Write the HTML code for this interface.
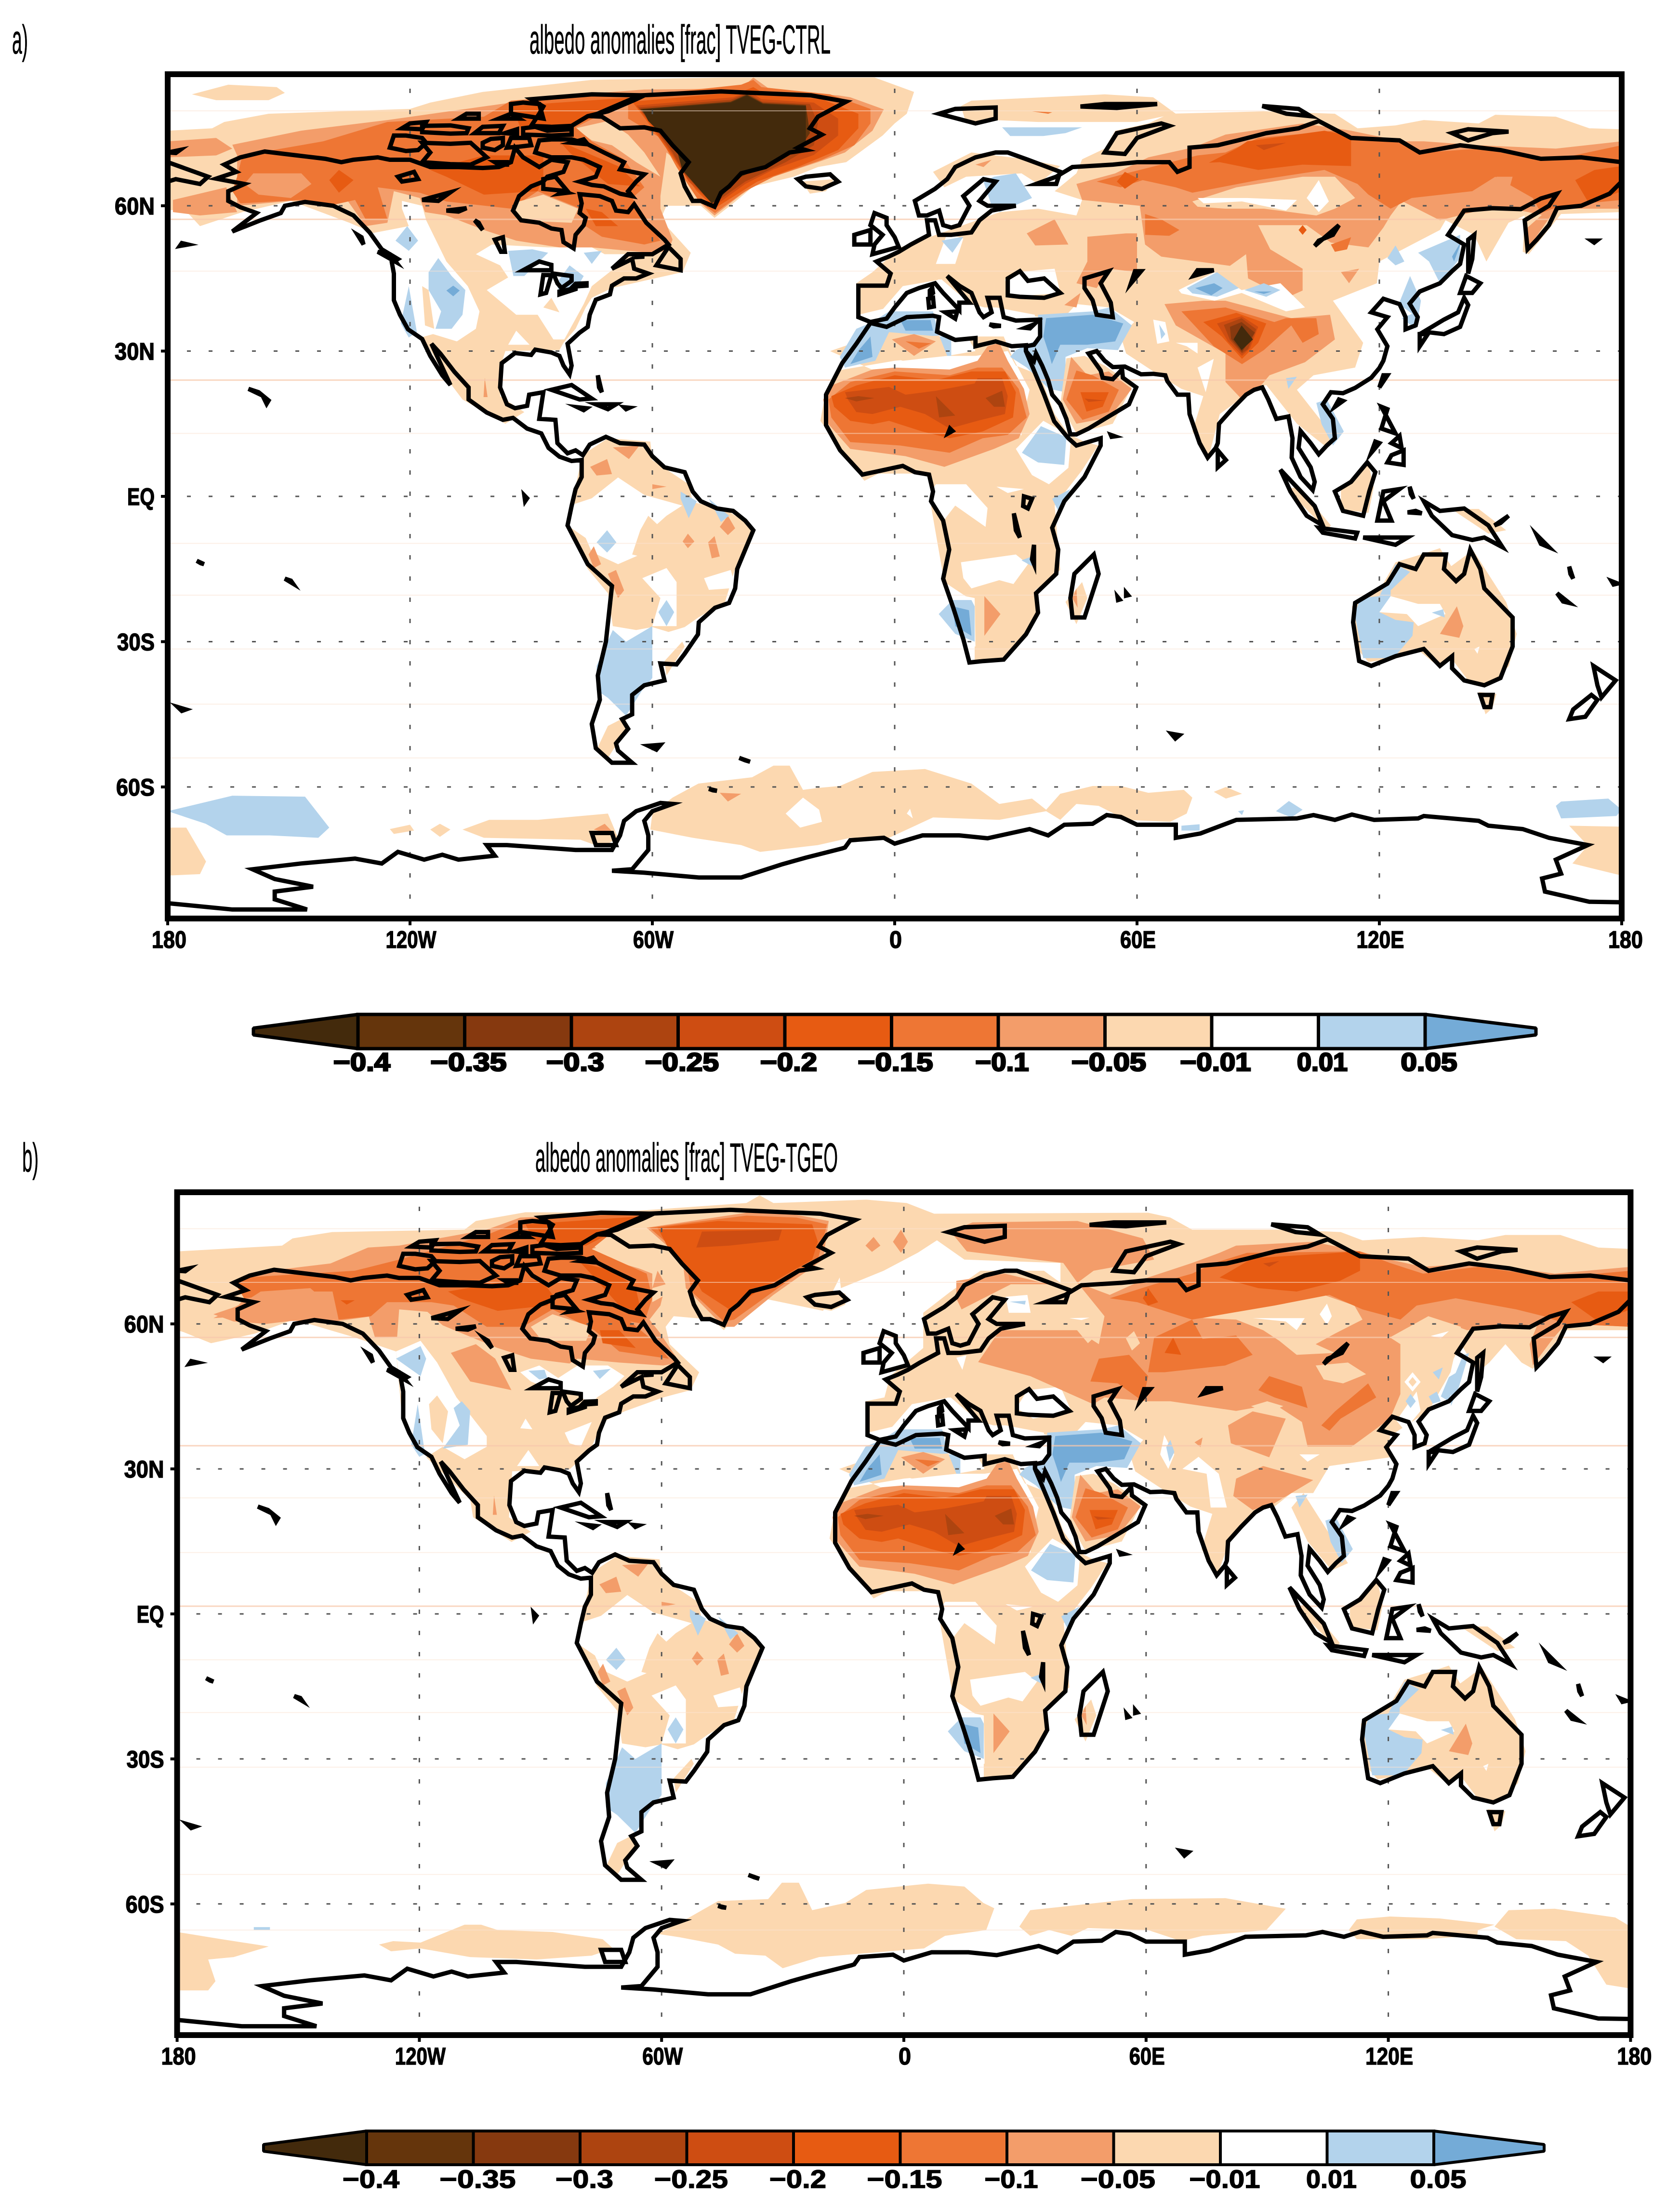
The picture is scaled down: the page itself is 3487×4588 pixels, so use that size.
<!DOCTYPE html>
<html lang="en">
<head>
<meta charset="utf-8">
<title>Albedo anomalies maps</title>
<style>
html,body{margin:0;padding:0;background:#fff}
svg{display:block}
text{font-family:"Liberation Sans",sans-serif}
.title{font-size:84px;fill:#000;stroke:#000;stroke-width:0.8}
.tick{font-size:50px;font-weight:700;fill:#000;stroke:#000;stroke-width:1.5}
.cb{font-size:53px;font-weight:700;fill:#000;stroke:#000}
</style>
</head>
<body>
<svg id="figure" xmlns="http://www.w3.org/2000/svg" width="3487" height="4588" viewBox="0 0 3487 4588">
<rect x="0" y="0" width="3487" height="4588" fill="#fff"/>
<text class="title" x="25" y="111" textLength="33" lengthAdjust="spacingAndGlyphs">a)</text>
<text class="title" x="1099" y="111" textLength="625" lengthAdjust="spacingAndGlyphs">albedo anomalies [frac] TVEG-CTRL</text>
<text class="title" x="46" y="2431" textLength="34" lengthAdjust="spacingAndGlyphs">b)</text>
<text class="title" x="1111" y="2431" textLength="628" lengthAdjust="spacingAndGlyphs">albedo anomalies [frac] TVEG-TGEO</text>
<defs>
<clipPath id="clip-a"><rect x="348" y="154" width="3018" height="1752"/></clipPath>
<clipPath id="clip-b"><rect x="367" y="2474" width="3017" height="1749"/></clipPath>
</defs>
</svg>
<script>
// ---------- chart data (levels index the colour bar, coordinates are lon,lat pairs) ----------
const lonTicks = [-180,-120,-60,0,60,120,180];
const lonLabels = ['180','120W','60W','0','60E','120E','180'];
const lonLabelWidths = [72,105,84,26,74,99,72];
const latTicks = [60,30,0,-30,-60];
const latLabels = ['60N','30N','EQ','30S','60S'];
const latLabelWidths = [83,83,57,78,80];
const gridLons = [-120,-60,0,60,120];
const gridLats = [60,30,0,-30,-60];
const cbLabelsA = ['−0.4','−0.35','−0.3','−0.25','−0.2','−0.15','−0.1','−0.05','−0.01','0.01','0.05'];
const cbLabelsB = ['−0.4','−0.35','−0.3','−0.25','−0.2','−0.15','−0.1','−0.05','−0.01','0.01','0.05'];
const cbLabelWidths = [118,158,120,153,118,156,111,155,147,105,117];
const faintLatsA = [79.6,46.5,13,-9.7,-20.4,-31.5,-42.9,-54];
const strongLatsA = [57.2,24];
const faintLatsB = [79.7,68.6,24,12.7,-9.5,-20.4,-31.7,-53.9,-65.4];
const strongLatsB = [57.2,34.8,1.6];

const regionsCommon = [
// North Africa pale, Morocco blue
[1,[-16,30,-2,34,11,33,22,33,27,33,29,29,33.4,22,31.4,15,31.4,8.3,34,4.4,38.2,2.5,42.3,4,50.5,10.5,43.7,12,39.6,17,36,25,30,27,28,30,20,29,13,29,0,28,-14,26,-17,22,-18.4,15.6,-12.3,8.3,-7.5,3.2,-4,4.7,8.2,4.7,9.5,1.7,9,-2,11.6,-14.4,12.3,-17.7,19,-21.4,19.8,-30,19.8,-33.8,27.3,-33.4,35.4,-24.7,34.8,-19.4,41,-15.2,39.6,-1.9,46.4,5.4,50,10,38,15,33,12]],
[0,[30,9.8,36.8,15.6,43.7,12.4,43,5.9,38.2,2.5,34,4.4]],
[-1,[31.5,9,36.2,14.5,42.5,12.2,42,6.5,35.5,7]],
[0,[10.2,2.5,17.7,2.5,23,-2.4,22.5,-6.3,15,-1.9,12.3,-4.8,8.9,-1.9,9,1]],
[0,[25.2,2,32,1.5,28,0.7]],
[0,[16.4,-13.6,30,-12,33,-14,29.4,-18.1,25.9,-17.3,19,-19,17,-16.9]],
[-1,[31.4,-13.2,34,-12.4,34,-14.4]],
[0,[19.8,-21,14,-20,12,-23,18,-31,20,-31]],
[-1,[14.3,-21.4,10.9,-24.3,15,-28.4,19.8,-30,19.8,-22.7,19,-21.4]],
[-2,[14.3,-22.7,18.4,-23.5,19,-28.8,15,-26.8]],
[2,[22.2,-20.6,26.2,-24.3,22.2,-28.8]],
[-1,[39,-0.5,43.5,1.5,40.5,-3]],
[1,[42.3,-21.8,46.4,-17.7,47.7,-21,45,-26.4]],
[2,[44,-21,45,-19,45.3,-23]],
// Mediterranean coast blues and pale
[-1,[-9.5,34.6,-5.5,36,-1.4,38.2,9.5,38.2,11,33,-1.4,33.9,-4.8,28,-12.3,26.6,-13.6,28.8]],
[-2,[-8.9,30.2,-6,33,-5.5,28.8,-11,27.3]],
[-2,[1.4,36.4,8.9,36.4,9.5,34.2,2.7,34.2]],
[0,[11,33,15,36,18,33,20,30,13,29]],
[-1,[11,33,14,33,14,29,11.5,29]],
[1,[-1.4,32.5,11,33.2,13,29,2,28,-2,29]],
[2,[-0.7,32.4,4.8,33.5,10.2,32,4.8,29]],
[3,[2.7,32,9,31.6,6,30.5]],
[0,[1,28,8,28,4,27]],
// Sahara rings
[2,[-15.7,22.9,-5.5,26.2,0,26.6,13.6,26.2,20.5,28,23,31,25.9,31.7,28,28,32,22.2,33.4,17,30.7,12,24.6,9.8,12.3,6.1,2.7,8.3,-11,9.8,-16.4,14.9,-17.7,20]],
[3,[-16.4,20,-11,23.6,0,25.8,13.6,25,20.5,26.6,26.6,26.6,30.7,22.2,32.7,16.3,28,12.7,21.8,12,13.6,9,1.4,10.5,-11,11.2,-15.7,16.3]],
[4,[-15.7,20.7,-9.5,22.9,0,25,10.2,24,19,25.8,27.3,25.8,30,21.5,29.3,16.3,21.8,13.4,13.6,12,6.8,13.4,-1.4,15.6,-5.5,14.9,-11,15.6,-15,18.5]],
[5,[-12.3,21.5,-1.4,22.6,2.7,21,10.2,21.8,19.8,23.3,20.5,24.4,26.6,24.4,28,20.7,27.3,17,20.5,15.6,13.6,14,7.5,17,1.4,18.5,-5.5,17,-9.5,17.4,-11.6,20]],
[6,[-12.3,20.3,-9,20.7,-5,20.3,-9.5,19.6]],
[6,[10.2,20.7,15,16.7,11,16.3]],
[6,[22.5,20.3,26.6,21.8,27.3,18.5,24.6,18.5]],
// Near East blue
[-1,[35.5,37.5,49,38.2,53.2,39,58.7,35.3,55.3,30.2,47.7,30.6,42.3,28.8,42.3,21.5,38.2,22.2,32.7,26.6,28.6,28.8,30,30.2,35.5,32.4]],
[-2,[37.5,36.8,49,37.5,56.6,35.7,54.6,32,47.7,31.3,41,31.3,38.9,27.3,38.2,29.5,36.8,33]],
// Arabia
[1,[42.5,28.5,47,29,52,27,59,23,54,15,45,13,41,19]],
[2,[43.7,28.8,47.7,25,53,25.8,58.7,22.2,53.2,16.3,45,15,41.6,20]],
[3,[45,26,49,25,55.5,22,53,17.5,46.5,15.8,42.5,20]],
[4,[46,21.5,53,21.5,51.5,18.5,47.5,17.5]],
[5,[47,20.2,52,19.8,48,19.5]],
// South America
[1,[-76.5,9,-71,12,-60.5,11.3,-60,7.5,-51,2.5,-50,-1.2,-42,-2.6,-35.3,-6.3,-35.3,-8,-39.3,-14.4,-42,-21.8,-48.6,-25,-52,-27,-56,-28,-60,-27,-64,-27.6,-69.8,-26.8,-71,-20,-76,-15,-81,-6,-80,-2,-79,2,-78,6]],
[0,[-80.5,-1.9,-75,-0.4,-68.5,3.9,-62,0.3,-52.6,-1.9,-56.5,-4,-60.5,-7,-63,-12,-68.5,-14,-75,-11.5,-76.5,-8.6,-80.5,-6.3]],
[1,[-61,-4,-56,-8,-60,-13,-65,-12,-63,-7]],
[-1,[-73.8,-9.5,-71.2,-7,-68.9,-9.5,-71.2,-11.6]],
[2,[-75.4,6.1,-71.2,7.7,-70,4.6,-73.8,4.3]],
[2,[-69.8,10.1,-63.2,10.5,-65.8,7.7]],
[2,[-60,2.5,-56.5,2,-60,1.5]],
[2,[-43.3,-6.3,-41.3,-4,-39.5,-6.6,-41.3,-8]],
[2,[-46.2,-9.5,-44.6,-8.2,-43.3,-12.4,-45.3,-12.8]],
[2,[-52.5,-9.3,-51.2,-7.7,-49.6,-9.3,-51.2,-10.7]],
[2,[-75.8,-12,-74.5,-10.3,-72.7,-14,-74.5,-14.8]],
[2,[-71,-16,-69,-15.2,-67,-19.4,-68.5,-21]],
[0,[-62.5,-16.9,-56.5,-14.8,-54,-17.7,-54,-26.8,-60,-26.8,-58,-21]],
[0,[-47.2,-16.9,-40.6,-15.2,-39.3,-18.9,-46,-19.3]],
[-1,[-56.5,-21.4,-58.5,-23.9,-56.5,-26.8,-54.6,-23.9]],
[-1,[-53,1,-49,-1,-51,-4.5,-53,-0.5]],
[-1,[-46,-0.5,-41,-4,-43,-5.3]],
[-1,[-69.8,-27.6,-66.5,-30,-60,-26.8,-60,-37.5,-62.5,-40,-66.5,-45.3,-71,-41.6,-73.8,-40,-73.8,-35]],
[1,[-57,-34,-52.6,-30,-52,-31,-56.5,-37]],
[1,[-71,-47.4,-66.5,-45.5,-66.5,-48.2,-71,-54,-73.8,-52.3]],
// Australia and Indonesia
[1,[130.3,-12,135,-10.7,137.8,-14.4,143.2,-11.1,151.4,-21.8,154,-28.4,152.1,-35,147.3,-39,141.9,-37.9,137.8,-33.4,135,-35.4,129.6,-31.7,124,-33.4,117.3,-34.2,113.9,-30.9,113.2,-22.7,120,-19.4,124,-13.6]],
[-1,[124,-14,127.6,-15.6,122.8,-19.4,122.8,-21,120,-23.9,124,-25.5,128.5,-26,128.2,-28.8,123.5,-33.4,116,-33.4,113.9,-24.3,115.3,-21,120,-20.6]],
[0,[122.8,-20.6,129.6,-22.2,135,-22.2,136.4,-24.3,129.6,-26.8,126.8,-24.3,120,-23.9]],
[-1,[133,-24,135.8,-23.3,136.2,-25]],
[2,[139.2,-22.7,140.8,-26.8,139.8,-29.2,135,-28.4]],
[0,[143.5,-31.5,144.8,-31,144.3,-32.5]],
[1,[144.6,-40.4,149,-40.8,148,-43.7,146.3,-45]],
[1,[110.5,1.8,117.3,6.9,118.6,1.8,117.3,-3.4,110.5,-2.7]],
[1,[137.8,-2.6,144.6,-2.6,151.4,-7,147,-7.7]],
[1,[97,1.5,107,-7,108,-6,100,2]]
];

const regionsA = [
[1,[-174,83,-165,85,-153,84.5,-151,83.3,-155,81.8,-168,81.8]],
[1,[-180,75.5,-169,76,-166,77.3,-155,79,-120,80,-115,81.3,-102,83.5,-75,86,-42,86.5,-5,86.5,4.8,83.5,3,79,0,77,-3,74.5,-12,69,-19,68,-25,66,-35,64,-40,60.5,-44.6,57.5,-48,60,-56.5,60,-58,57.2,-50.5,50.3,-52.5,46.3,-60.5,44.8,-70,43,-75,41,-76.5,39,-79,34.6,-82,31.7,-83,30.2,-96.4,30,-97.7,26.6,-97.7,20.7,-91.7,17.4,-96.4,15,-107,20,-111,24.4,-116,31.7,-123,44,-125.6,50,-128,54,-135,56.5,-149.5,61,-161.5,58.7,-172,55.8,-176,59.4,-180,59]],
[1,[-23,65,-15,65.5,-17,63,-21,62.5]],
[0,[-122,61,-117,60,-116,57,-111,48.5,-105.7,43.4,-102.8,38.2,-103.7,34.6,-108.4,32,-114.3,33.5,-119,32.4,-123,38,-125,44.8,-129.6,54.3,-120.3,55.8,-122,59.4]],
[1,[-117,43.4,-115.4,42.6,-114,34.6,-116.3,35.3]],
[-1,[-123.6,52.8,-120.7,55.8,-118,52.8,-120.3,50.7]],
[-1,[-113,49.2,-109.7,45.5,-106.3,42.6,-107,37.5,-109.7,34.6,-113.7,34.6,-112.3,38.2,-115.4,42.6,-115.4,46.3]],
[-2,[-111,42.5,-109.3,43.5,-107.7,42.5,-109.3,41.3]],
[-1,[-120.3,43.4,-119.2,38.2,-118.3,33.9,-120.3,32.8,-122.3,35.7]],
[0,[-103.7,50,-99.7,52,-85.8,51.4,-75,51.4,-71.8,50,-65.8,50,-68.5,47.7,-75,43.4,-77,39.7,-81.8,32.4,-84.5,32.4,-88.4,37.5,-93.7,37.5,-101,42.6,-95.7,45.2,-97.7,47.7]],
[0,[-95.7,31.3,-93.7,34.2,-90.4,31.3]],
[1,[-85,41,-83,38,-87,39]],
[-1,[-95.7,50.7,-89.7,51,-85.8,50.3,-91.7,45.5,-94.4,45.5]],
[-1,[-77,50.3,-72.5,50.7,-75,48]],
[-1,[-80.5,47.7,-77,45.5,-78,44,-83,41.9,-83.7,44]],
[2,[-101.5,24.5,-100.8,20.5,-101.8,20.5]],
// Arctic Canada and Greenland
[2,[-180,73.3,-168,74,-164,71.8,-168,70.4,-180,70]],
[2,[-178.7,61.2,-165.5,63.8,-162.8,58.7,-172,58,-178.7,58.7]],
[2,[-164,72.6,-147,75.5,-125.6,77.7,-95,81.3,-78,83,-62,84,-38,84.2,-35,86.5,-30,83.5,-14,82.8,-11,82.4,-2.7,79.9,-5.5,75.5,-12.3,71,-19,69,-32.6,65.3,-38,62.3,-44.6,58,-48.6,60.9,-52.6,68.2,-56.5,71,-58,62,-58,59.4,-55,53,-56,50.7,-60.5,50.3,-75,51.4,-83,51.4,-93.7,52.8,-101.7,55,-111,58,-116.3,58.7,-117.6,61.6,-124,63,-125.6,56.5,-131,55.8,-135.6,61.2,-149.5,61,-162.8,60,-162.8,64.5,-162.8,70.4]],
[1,[-79,76,-71,77.5,-66,74.7,-62,71,-58,66,-64,69,-70,72.5,-75,73.5]],
[3,[-161.5,70.4,-141.5,73.3,-125.6,77.3,-101.7,78.4,-95,81.7,-78,82.8,-64.5,82.8,-73.8,78.4,-79,76.2,-75,73.3,-67,69.6,-62,63.8,-65,61.6,-62,58,-58,52.8,-62,52,-72.5,53.6,-76.5,55.8,-77.8,59.4,-88.4,63,-95,59.4,-111,60.9,-117.6,62.7,-128,63.8,-125.6,57.2,-131,57.2,-133.6,61.2,-140,60,-147,61.2,-162,60.5,-164,63,-162.8,66]],
[2,[-158.8,66.7,-146.9,66.7,-144.4,64.5,-149.5,61.6,-157.5,62.3,-161,64.5]],
[4,[-140,65.3,-137.6,67.4,-134,65.3,-137.6,62.7]],
[4,[-115,67.4,-101.7,70.4,-87,70.4,-87,66,-88.4,63,-101.7,62.3,-111,66]],
[4,[-95,80.6,-64.5,82.4,-71,80,-78,77,-92.4,75.5,-93.7,78.4]],
[4,[-76.5,59.4,-72.5,58.7,-68.5,55.8,-74,55.8]],
[4,[-83,73.3,-68.5,68.2,-63,64,-71,64.5,-80.5,71]],
[1,[-93,60.9,-87,62.3,-78.4,59.4,-80,56.5,-91,56.9,-95,58.7]],
[2,[-86,54,-83,54.5,-85,52.8]],
[3,[-66,82.5,-38,85,-35,86,-33,84.5,-16,83,-6,80,-6,77,-10,72.5,-18,69.5,-30,66,-37,63,-44.5,58.5,-48.5,61,-54,68,-58,74,-66,78]],
[4,[-65,81.5,-38,83.5,-35,84.5,-32,83,-18,82,-9,79,-9,76,-14,71.5,-24,68,-34,65,-44.5,59.5,-49,63,-55,70,-60,76]],
[5,[-64,80.7,-40,82.4,-36,83.7,-33,82,-20,81.3,-14,78,-14,74.5,-20,70.5,-30,67.5,-37,64.5,-44.5,60,-51,65,-55,70.5,-60,76.5]],
[6,[-63.5,80.3,-40.5,81.9,-36.5,83.3,-32.8,81.5,-21,81,-19,77,-20,72.5,-27,69,-37,65,-45,60.3,-52,66.5,-55,71,-60,76.8]],
[8,[-63,80,-40.6,81.5,-36.6,83,-32.6,81.2,-22,80.8,-21,75,-23,72.5,-28.7,69.6,-38,66,-43.3,61.6,-45.3,60.5,-52.6,67.4,-54,71.8,-60,77]],
[9,[-62.5,79.9,-40.6,81.3,-36.6,82.8,-32.6,81,-22,80.6,-22,73.3,-28.7,69.6,-38,66.7,-43.3,61.6,-45.3,60.5,-52.6,67.4,-54,71.8,-61,77.5]],
// Eurasia
[1,[16.4,80.6,19,81.7,52,83,64,82.4,69.6,79,60,77.3,35.5,77.3,24.6,77.7,17.7,77]],
[3,[34,79.5,39,79.3,38,79]],
[1,[68,79,91.4,79.5,109,79,114.6,76,124,76.6,131,77.7,144.6,77,148.7,78.8,163.7,78.4,172,76,180,75.8,180,58.7,165,58.3,157,50,155.5,50.5,156,58,152,56.5,146.5,48.5,143.5,54,136.4,57,135,55,120,48.5,119.4,44,108.5,40.4,116,31.7,114,26.6,103.7,25,99.6,22,109,12,106.4,10.5,99.6,15,92,23,88.7,22,80.5,17,77.8,8.3,73.7,13.4,76.4,20.7,71,22.2,65.5,25,57.3,29.5,56,33,59.3,36,53.2,39,45,39.7,42,37,36,37,28,38,27,38,19,39.7,14,43,11,44.8,1.4,42,-1.4,39,-9,37.5,-9.5,44,-5.5,46.3,1.4,51.4,13.6,55,26,58.7,35.5,59.4,45,58,46.4,61.2,39.6,63,45,66.7,46.4,69.6,52,71.8,54.6,75.5,62.8,77]],
[1,[9.5,67,19,71,32.7,69.6,41,68.2,35.5,64.5,31.4,66.7,17.7,66,12.3,63.8]],
[2,[20,68.5,24,69.5,22,68]],
[0,[10.2,48,15,48,17,53.2,13,54.3]],
[-1,[11.6,52.8,17,53.6,14.3,50.3]],
[-1,[22,65,24.6,66,30,66.7,34,61.6,26,58.7,24,60]],
[-1,[26.6,76.2,46.4,76.2,42.3,75,36.8,74.4,28.6,74.4]],
[0,[27.3,44.8,30,46.3,39.6,47,41,42,28.6,41.2]],
[2,[42,39.5,46,42,45,39]],
[0,[-7.5,37.5,-3.4,38.2,2,43.4,11.6,44.8,19.7,39,25.2,39,34.7,37.5,34.7,30.2,27.9,30.2,18.4,30.2,11.6,32.4,10.2,36.8]],
[0,[40,30,43,25,37,18,35,25]],
[-1,[122,49.2,124,51.8,126.2,48.5,124,47.7]],
[-1,[129.6,50.3,140,54,140,49.2,135,44,132.3,48.5]],
[-2,[138,49.5,140.5,53,138.5,48.5]],
[-1,[124.8,39.7,127.6,45.5,130.3,40.4,129.6,36.8]],
[-1,[125.5,36.8,129.6,38.2,129,34.6]],
[2,[45,64.5,54.6,66.7,62.8,70,73.7,72,81.9,74.7,101,77,113,75.5,125.5,73.3,131,73.3,144.6,72.5,163.7,71.8,180,73.3,180,59.4,163.7,59.4,161,58,152,59.5,144.6,59,135,57,125.5,61,122.8,58,121,55.5,117.3,51.4,108,52.4,102,56,90,56,93,51,101,47,101,42.5,97,41,87.5,45,87,50,83,47.6,66,49.5,62,52,60.7,60,46.4,61.2]],
[2,[60,54.3,60,46.3,53.2,47,50,43,45,44,47.7,48.5,47.7,53.6,57.3,54.3]],
[2,[32.7,54.3,39.6,57.2,43,52,34.8,51.8]],
[2,[156,55,162,59.4,163.7,59.4,157,51.4]],
[2,[110.5,46.3,115,47,112.5,44]],
[1,[73.7,60.9,84.6,63.8,101,66,109,66,114,61.6,109,59.4,104.4,58,91.4,59.4,81.9,59.4,75,59.8]],
[0,[75,61.6,87.3,61.6,99.6,61.2,96.9,59,86,60.9,76.5,60.5]],
[0,[105,65.3,107.5,60.9,105,58.7,102,61.6]],
[3,[62,58.3,66,57.2,70.5,55,68,53.8,62,54]],
[4,[100,55,101,54,102,55,101,56]],
[3,[57.3,66.7,75,70.4,81.9,71,90,74,109,75.5,113,74.4,124,73.3,131,71,144.6,71.8,163.7,69.6,180,72.5,180,61.2,165,60,160,58.5,158,61.6,148.7,66,143,63,128,61.6,122.8,59.4,117.3,62.3,114.6,64.5,106.4,67.4,90,65.3,73.7,62.7,69.6,63.8,61.4,65.3,56,63.8,50,65]],
[2,[149,66,153,66,152,63,148,63]],
[4,[77.8,68.9,84.6,71.8,87.3,73.3,106.4,75.5,113,74.4,113,68.2,101,68.5,90,67.4,80.5,69]],
[5,[89.4,72.5,96.9,73,91.4,71.5]],
[4,[168.5,65.3,173.3,67.4,180,68.2,180,63,171.9,60.5]],
[4,[57,67,60.5,65.5,57,63.5,55,65]],
[3,[108,52,113,53.5,112,51,109,50.5]],
// Tibet
[0,[70.3,42.6,79.2,46.3,85.9,42.6,95.5,44,101.6,39,96.9,38.2,85.9,42,79.2,40.4,71,41.9]],
[-1,[72.3,43,79.8,46.3,85.2,43,79.8,41.2,73.7,41.9]],
[-2,[74.4,43,79.1,44,81.2,43,78.4,41.5]],
[-1,[86.6,42.6,91.4,44,95.5,42.6,92,41.2]],
[-2,[89,42.3,93.4,42.3,91.4,41.8]],
[0,[64,36.5,67,36,68,32,65,31.5]],
[-1,[65.5,35.5,67,33.5,66,32.5]],
[0,[69.6,31.7,75,31.7,75,29.5,72.3,31]],
[0,[75,26.6,79,28.4,77,21.5]],
[2,[66.8,39.7,76.4,40.4,81.9,40.4,98.2,36.8,107.8,37.5,109,32.4,101.6,27.7,92.8,25,90,22.2,86,20,81.9,23.6,81.9,29.5,69.6,35.3]],
[3,[71,38.2,81.9,39,94,36,96.9,36.8,104.4,36.8,105,33.5,101,31.7,98.2,35.3,91.4,30.2,86,27.3,79,31]],
[4,[76.4,36,84.6,37.9,92,35.7,90,31.7,86,28.4,81,33]],
[5,[79.8,35.7,85.9,37.2,90,35,88,30.6,86,29,82.5,32]],
[6,[81.5,35.4,85.9,36.8,89.5,34.5,87.5,30.4,86,29.5,83,32.3]],
[7,[83,35,85.9,36,89.2,33.8,86,29.8,83.3,32.5]],
[9,[85.9,35.3,88.7,32.4,85.9,30.2,83.9,32.4]],
[-1,[104.4,19.3,107,20,111.2,13.4,108.5,10.5,105.7,14.9]],
[-1,[96.9,24.4,99.6,24.7,97.5,22.2]],
// Antarctic ring
[-1,[-180,-65,-164,-61.8,-146,-62,-140,-68.4,-142.7,-70.5,-154.8,-70,-165.4,-70,-170.6,-67.6]],
[1,[-180,-68.4,-175.4,-68.4,-170.5,-75.4,-172,-78,-180,-78.3]],
[1,[-125,-68.7,-120,-67.8,-119,-69,-124,-69.7]],
[1,[-112.6,-67.6,-115,-68.8,-112.6,-70.3,-110,-68.8]],
[1,[-107,-68.8,-100.4,-66.8,-88.4,-66.8,-71,-65.5,-68.5,-70.5,-72.5,-72.5,-77.8,-70.9,-101.7,-70.5]],
[2,[-74.5,-68.8,-71.8,-67.6,-69,-70]],
[1,[-55,-62.2,-48.6,-59.3,-35.3,-58,-30,-55.6,-26,-55.6,-22.7,-60.6,-19,-60.2,-13.6,-59.8,-5.5,-56.9,7.5,-56.3,19,-59.3,25.9,-63.5,34,-62.4,37.5,-64.7,41,-61.4,49,-59.8,56,-59.8,62.8,-61.2,71.6,-60.6,73.7,-62.2,72.3,-65.5,68.2,-67.2,57.3,-66.8,50.5,-63.9,45,-63.5,41,-66.8,37.5,-65,25.9,-66.8,9.5,-66.3,-1.4,-70.5,-11,-70.5,-19,-72,-33.3,-73.4,-38,-72,-50,-70.5,-60.5,-68.8,-60,-65.5]],
[0,[-27,-65.5,-22.7,-62.2,-18.7,-64.7,-18,-67.2,-23.4,-68.4]],
[0,[3,-65.5,3.8,-64.5,4.5,-66.5]],
[2,[-43.3,-61.2,-38,-61.4,-41.3,-63]],
[1,[79,-61,82,-60,86,-61.4,82,-62.4]],
[-1,[94.4,-65,97.6,-62.9,101,-64.7,98.2,-66.3]],
[-1,[85,-65,86.5,-64.8,86,-65.8]],
[-1,[71,-68,75.5,-67.7,75.5,-69,71,-69]],
[-1,[163.7,-63.9,165,-63,176.7,-62.4,180,-64.7,178.7,-66,165,-66.5]],
[1,[167,-68,180,-68.2,180,-78.3,167.8,-75.8,171.6,-72.1]]
];

const regionsB = [
[1,[-180,75,-154,76.2,-151.4,77.7,-141.6,79,-108.8,79.5,-106,81.3,-93.7,83.1,-73,83,-39,85,-35.7,86.6,-32.3,85,-9.3,85.7,0.7,85,7.5,82.8,60.5,83,66,82,71.4,79.5,94.6,79.5,108.2,79,113.6,77.3,128.6,78,142.2,77.3,149,78.4,162.6,78.4,172,75.8,180,75.5,180,58.7,164,58.7,155.8,50.7,153,52,149,55.8,145,52,142.2,50,138,55.8,132.7,47,130,42,120.4,36.8,120.4,32.4,105.4,30.6,101.4,25,96,25,91.8,22.2,89,22,81,16,77.8,8.3,73.7,13.4,76.4,20.7,71,22.2,65.5,25,57.3,29.5,56,33,59.3,36,53.2,39,45,39.7,42,37,36,37,28,38,27,38,19,39.7,14,43,11,44.8,1.4,42,-1.4,39,-9,37.5,-9.5,44,-4.8,44.8,-3.4,49.2,4.8,55,4.8,62.3,11.6,66.7,19,71,34.7,71,38.8,68.5,38.8,72.6,15,73.3,8.2,77.3,3.4,74.7,-5,71,-15.6,67.4,-15.9,69.6,-20,62.7,-35,65.3,-40.5,62.7,-44.6,58.7,-47.3,60.9,-57,61.6,-59,59.4,-58,55.8,-50.7,50,-52.8,46.3,-59.6,44.8,-69.2,41.9,-74.6,39.7,-77.3,34.6,-81.4,31,-82.8,29.9,-97,29.5,-97.8,20,-92.4,17,-97.2,14.9,-106.7,20,-107.4,23.6,-118.3,32.4,-124.5,42.6,-125.8,54.3,-136,57.2,-151,60.9,-160.7,58,-171.6,56,-178.4,58.3,-180,58.7]],
[1,[99,25,110,10.5,106,9,100,15,96,22]],
[1,[-22.7,66.3,-14.5,66.3,-14.5,64,-18,62.7,-22.7,63.5]],
[0,[-125.8,54.3,-119.7,56.5,-115.6,52,-110.8,44.8,-103.3,36.8,-103.3,34.6,-108.8,32,-114.2,34.6,-118.3,32.4,-123.8,39.7,-124.5,44.8]],
[1,[-117.6,43.4,-115.6,45.2,-112.9,41.9,-114.2,35.3,-117,38.2]],
[-1,[-125.8,52.8,-119.7,55.4,-118.3,52.8,-119.7,49.2]],
[-1,[-109.5,44,-107.4,42,-108,35,-114.2,34.2,-110,39,-111.5,42.6]],
[-1,[-120.4,43.4,-118.6,33.1,-120,32.5,-122,35]],
[0,[-95,50,-90.3,51.4,-85.6,48.8,-80.8,51.4,-73.3,51.4,-69.2,49.2,-72,47,-76,44.8,-77.3,43.4,-82.8,46.3,-87,46.3,-92.4,48.1]],
[-1,[-93,50.3,-89,50.5,-88.3,48.8,-90.3,48.5]],
[-1,[-77,50.3,-72.6,50.7,-75.3,48.6]],
[0,[-84,37.5,-77.3,39.7,-80,34.6,-82.8,35.3]],
[0,[-93.7,40.4,-92,38.2,-95,38.4]],
[0,[-95.8,30.6,-93,33.9,-90.3,30.6]],
[2,[-101.5,24.5,-100.8,20.5,-101.8,20.5]],
[2,[-112.2,54,-106,55.8,-101.2,52.8,-97.2,46.3,-107.4,48.1]],
[2,[-132.7,75.8,-125,76.2,-103.3,79.5,-95,82,-62.3,83.1,-73.3,78.4,-77.3,76.6,-73.3,73.3,-61,70.4,-59,68.2,-60.3,63.8,-63,60.9,-60.3,58,-55.5,52,-59.6,51.4,-70.5,52,-80.8,52.8,-82.8,51.8,-92.4,52.8,-100.6,55,-114.2,59.7,-118,62.5,-125,63,-125.5,57.3,-131,57.2,-132.5,61.5,-141,60.5,-148,61,-158,60,-166,60.5,-171,62,-165,63.7,-162.5,66,-163,69.5,-157,71,-142,72.5]],
[3,[-163.4,69.6,-136,71,-125,73.3,-103.3,78.4,-93.7,81.7,-62.3,83,-73,78.4,-77.3,75.5,-63.7,70.4,-62.3,65.3,-64.4,60,-67.8,60.5,-61,55.8,-58.2,52.8,-70.5,54.3,-76.7,58.7,-87,63,-94.4,59.4,-103.3,59.4,-111.5,63.8,-117,64.5,-128,64.5,-132,61.6,-140,60.9,-141.5,66.7,-147,66.7,-163.4,65.3,-165.5,68.2]],
[2,[-159.3,66.7,-147,67.4,-143,64.5,-141.5,60.9,-155.2,60.5,-163.4,61.6,-171,61.2,-163.4,64.5]],
[4,[-139.5,64.9,-136,64.9,-138,64]],
[4,[-112.9,66.7,-100.6,68.5,-89.6,68.9,-87,66,-88.3,63.8,-100.6,62.7,-110,65.3]],
[4,[-93.7,80.6,-62.3,82.4,-72,79,-78.7,76.2,-89.6,76.2,-92.4,78.4]],
[4,[-80,72.6,-71.8,71,-66.4,67.4,-65,62.3,-70.5,63.8,-76,69]],
[4,[-75.3,58.7,-70.5,58.7,-66.4,55,-74.6,56]],
[1,[-92.4,59.4,-87,62,-77.3,59.4,-78.7,56.5,-89.6,56.5]],
[1,[-77.3,75.5,-69,77.3,-62.3,71.8,-59.6,71,-57.5,66.7,-62.3,64.5,-62.3,70.4,-73.3,74]],
[2,[-61,71,-59,68.2,-62.3,67.4]],
[2,[-63.7,79.9,-39,83,-28,82.8,-18.6,81.3,-20,73.3,-32.3,66,-42,59.4,-44.6,59.4,-54,67.4,-54.8,73.3]],
[3,[-63,79.9,-39,82.4,-26.6,82,-19,80.6,-21.3,73.3,-32.3,66.7,-42,60.9,-44.6,60.5,-52.6,66.7,-54,73.3]],
[4,[-61,79.9,-46,81.3,-22.7,80.6,-21.3,77,-22.7,73.3,-35,67.4,-43.2,63,-50,66.7,-52.8,71,-58.2,75.5]],
[5,[-50,79.1,-30.2,79.5,-31,77.3,-43.2,76.2,-51.4,75.8]],
[2,[-9.5,76.2,-7.5,78,-5.8,76.2,-7.9,74.9]],
[2,[-2.7,77,-0.7,79.5,1,77,-0.7,74.7]],
// Eurasia
[0,[27.9,42.6,30.6,46.3,38.8,47,41.5,41.9,32,40.4]],
[0,[-7.5,37.5,-3.4,38.2,2,43.4,11.6,44.8,19.7,39,25.2,39,34.7,37.5,34.7,30.2,27.9,30.2,18.4,30.2,11.6,32.4,10.2,36.8]],
[0,[25.2,65.6,30.6,66,31.4,62.3,26,62.3]],
[-1,[26.2,64.6,30.2,64.8,30,64]],
[2,[13,68.9,25,70.4,36,68.2,26.5,68.2,14.3,63,13,65.3]],
[0,[13,53,15.5,53.5,14.5,50.5]],
[2,[17,81,43,81.3,59.2,77.7,62,73.3,47,71,43,68.5,39.5,72.6,15.6,75,11.6,79.1]],
[2,[43,68.5,51,66,60.5,69.6,71.4,72.6,78.2,74.7,82.3,76.2,101.4,77,113,75,120.4,73.3,128.6,71.8,142.2,72.6,161.2,70.4,180,71.8,180,59.4,164,60,161,57.2,155.8,51.4,155,55.8,157,60,139.5,58.7,129.9,61.6,123,58,123,45.5,120.4,40.4,110.9,34.6,100,34.6,98.6,39.7,91.8,43.4,82.3,42,66,44,60.5,44,49.7,44.8,46.9,43.4,31.3,49.2,18.4,52.1,23.8,58.7,42.9,58.7,48.3,55.8,49.7,61.6]],
[1,[74,61.2,89,63.8,104,66,111.6,63.8,113.6,60.9,106.8,58,102,55.8,106.8,54,97.3,53.6,93,56.5,89,58.7,82.3,60.9]],
[0,[86.4,61.2,99.3,61.2,97.3,58.7,94.6,60.5]],
[0,[104.8,64.2,106,61.6,104.8,59.8,103,62]],
[1,[37.4,62.7,48.3,63,49,58.7,45.6,56,42.9,58.7,33,59.5,36,61]],
[0,[41,61.2,46,61.3,44,60.8]],
[1,[55,57,57,58.5,58.5,56,56.5,54.5]],
[1,[120.4,57.2,129.9,61.6,138,59.4,135.4,50,130,42,123,45.5,123,55.8]],
[0,[130.5,57.5,135,58.5,133,57]],
[0,[124,48,126,50,128,48,126,46]],
[1,[125,48,126,49,127,48,126,47]],
[-1,[131,50,133.5,51,132.5,48.5]],
[-1,[138.5,53.5,140,54,137.5,47,135.5,43,135.5,47.5]],
[1,[102,51.4,110,52,114.5,49.6,108.8,47.7,104,48.5]],
[3,[51,65.3,62,68.2,71.4,70.4,76.9,72.6,85,74.7,113,75,120.4,72.6,128.6,70.4,142.2,71.8,161.2,69.6,180,71,180,59.4,164,60,158.5,61.6,151.7,63,136.7,65.3,127,63.8,123,60.9,113.6,63,105.4,66,91.8,63.8,71.4,60.9,66,62.3,57.8,64.5]],
[4,[78.2,69.6,86.4,73.6,113,75,113,71,108,68.9,97.3,66.7,87.8,67.4]],
[4,[165.3,64.5,172,66.7,180,66.7,180,63,172,60.5]],
[4,[59.2,65.3,60.5,67.4,63,64.5,60.5,63.8]],
[5,[89,72.5,93,73,90.5,71.8]],
[3,[62,57.2,71.4,60.9,74,56.9,82.3,57.6,86.4,53.6,79.6,51.4,64.6,50,60.5,50]],
[3,[48.3,52.8,55.8,53.6,60.5,49.2,59.2,44,53,47.7,46.2,48.1]],
[4,[64.6,54,66.7,57.2,68.7,53.6]],
[3,[87.8,46.3,90.5,49.2,98.6,47,100,42.6,91.8,44.8]],
[3,[103.4,39,106.8,41.9,115,47.7,117,44.8,108.2,40.4,105.4,37.9]],
[2,[80.3,39,86.4,41.9,94.6,40.4,90.5,32.4,81,35.3]],
[1,[86,43,90,44,94,43,90,41.5]],
[2,[82.3,28,89,30.6,101.4,27.7,91.8,22.9,86.4,21.5,81.6,24.4]],
[2,[72,35.5,74,36.5,73.5,34.5]],
[0,[64.5,37,67,33,65.5,30,63.5,33]],
[-1,[65,34.5,66,36,67,33.5,65.8,31.5]],
[0,[69,30,73,32.5,78,29,80,22,76,22,75,29]],
[0,[98,33,103,33,100,31.5]],
[-1,[104.4,19.3,107,20,111.2,13.4,108.5,10.5,105.7,14.9]],
[-1,[97,24.4,100,24.7,98,22]],
[-1,[135,49,137,50,135,44,133,45]],
[0,[122,40,127,46,128,42,124,38]],
[-1,[124.3,44,125.5,45.5,126.8,44,125.5,42.6]],
[-1,[130,45,132,46,133,44,131,43.5]],
// Antarctic ring
[1,[-180,-65.8,-169,-67.3,-157.3,-68.8,-166,-71,-172.3,-71.5,-170.5,-76,-172.3,-77.9,-180,-77.9]],
[-1,[-161,-64.8,-157,-64.8,-157,-65.4,-161,-65.4]],
[1,[-130,-68.4,-126.5,-67.7,-119.7,-68,-108.8,-64.3,-104.7,-64.3,-100.6,-65.4,-87,-65.8,-74.6,-67.3,-72,-69.2,-77.3,-70.7,-91,-71.5,-107.4,-71,-119.7,-69.2,-127,-69.8]],
[1,[-61,-66.2,-54,-63.2,-46,-59.4,-33.6,-59,-30.2,-55.6,-26,-55.6,-22.7,-61.3,-14.5,-59.8,-9.3,-57.1,6,-55.8,15,-56.4,19.7,-59.8,22.4,-60.9,20.4,-65.4,10.2,-66.6,5,-69.2,-21,-71,-30,-73.3,-34.3,-70.7,-41.8,-70.3,-46,-68.4,-55.5,-66.9]],
[1,[28.6,-64.7,31.3,-61.3,56.5,-59,79.6,-58.8,94.6,-61,89.8,-65.4,74,-66.6,68.7,-67.7,60.5,-65.4,45.6,-65,41.5,-66.6,36,-65.4,31.3,-66.6]],
[1,[110.2,-65.4,112.2,-63.2,120.4,-62.6,132.7,-63,146.3,-64.3,142.2,-65.4,142,-66.6,128.6,-67.3,112.2,-67.3]],
[1,[149.8,-61.3,161.2,-61,176.2,-62.8,180,-64.7,180,-77.5,174,-76.7,169.5,-70.7,164,-67.7,151.7,-67.3,146.3,-64.7]]
];

const coastLines = [
[32.5,30,34.5,28,35,29.5,36.5,27,38,24,39,21,41,19,42.5,16,43.5,12.8,45,12.8,48,14,52,16,55,17.5,58,19,59.8,22.5,56.5,24.5,56.3,26.2,54,24.2,51.5,24.5,51,26,48,29.5,50,30,52,28,54,26.7,57,26.8,61,25.2,64,25.3,67,25,67.5,23.8,70,21,72.7,21,73,17,75.5,11,77.5,8,79.5,10,80,11,80.3,15,83.5,18,87,21,89,22,91,22.5,92.5,20,94.5,16,97.5,16.5,98.5,12,98.3,8,100.5,4,103.5,1.3,104,3,103,6,100,10,100.5,13.5,103,11,105,8.7,107,10.5,109,12,108.5,16,106,19,108,21.5,111,21.3,114,22.4,118,24.5,120,26.5,121,28,122,31,119.5,34.5,122,37,118,38,121,40.8,125,39.7,126.5,37,126.5,34.5,129,35.3,129.5,37,127.5,39.8,130,42.3,135,44,138,46.5,140,48,141,52,137,54,141,59,148,59.5,155,59.3,160,61.5,164,62.5,162,60,156,57,156.7,51,159,53,162,56,164,59.5,170,60,177,62.5,180,65],
[180,69,170,70,160,69.7,150,71.5,140,72.5,130,71,125,73.5,113,74,105,77.5,100,76,92,75,85,73.5,80,72.5,73,72,73,68,70,67,68,69,60,69,54,68.5,44,68,40,66,35,64.5,40,64.5,41,67,33,69.5,28,71,25,71,20,70,15,68,13,65.5,10,63.5,5,61,6,58,8,58,11,59,12,56,14,55.5,16,56,18.5,60,17,62,22,65.5,25,65,21,61,23,60,30,60,24,59,21,57,19,54.5,14,54,11,54,10,57,8,57,8.5,54,4,52,1,50.5,-1.5,49.5,-4.5,48.5,-1,46,-2,43.5,-9,43.5,-9,37,-6,36,-2,36.7,0,39,3,42,6,43,10,44,12,42,16,38.5,16,40,18.5,40,13,45.5,16,43.5,19,42,21,38,22,37,24,38,23,41,26,41,27,37,30,36.3,36,36.5,36,33,34.5,31.3,32.5,31,32.5,30],
[-180,69,-170,66,-172,64.5,-178,65.5,-180,65],
[-180,-84,-164,-85.3,-145.5,-85.3,-153.5,-83.2,-153.5,-81.6,-144,-80.6,-153.5,-79,-159,-77,-147,-75.8,-133.6,-74.8,-127,-75.8,-123,-73.4,-116.5,-75,-112,-74,-108,-75,-99,-74.2,-101,-72,-96,-72,-79,-73,-70,-73,-68,-70,-67,-67,-64,-65,-58,-63.3,-55,-63.5,-60,-65,-62,-67,-61,-70,-61,-73,-63,-75,-65,-77,-70,-77.3,-62,-77.7,-48.5,-78.7,-38,-78.7,-28,-76,-22,-74.6,-13,-72.7,-12.3,-72.5,-11,-71,-2.7,-70.5,0,-71.7,6.9,-70,16,-70,23,-70.6,33.4,-68.7,38,-70,42,-67.8,49,-67.6,52.5,-65.8,56,-66.2,60,-67.8,69.6,-67.8,69.6,-70.5,75.7,-69.6,84.6,-66.8,99.6,-66.5,103.7,-65.8,109,-66.8,113.2,-65.7,118.7,-66.8,129.6,-66.5,131,-66,144.6,-67,147,-68,155.5,-68.7,162,-70.5,171.6,-72,163.7,-75,165,-77.9,160.3,-78.9,161,-81.6,172,-83.7,180,-83.8]
];

const coastRings = [
[-156,71.2,-152,70.8,-148,70.4,-141,69.7,-137,69,-134,69.5,-128,70,-125,69.5,-120,69.5,-115,68,-110,68,-108,68,-102,67.8,-98,68,-95,69,-94,72,-92,70,-90,69,-88,68,-85,69.5,-81,69,-82,67,-86,66,-87,65,-90,64,-93,62,-94.5,59,-92.5,57,-88,56.5,-85,55.3,-82.5,55,-82,52.5,-79.5,51.2,-79,54,-77,56,-76.5,57.5,-78,58.5,-77.5,60.5,-78,62.4,-73,62,-70,61,-69,59,-66,58.7,-64.5,60.3,-61.5,56.5,-57,53,-56,52,-60,50,-66,50,-70,47,-65,49,-64.5,47,-61,46,-64,45,-67,45,-70,43.5,-70.5,41.7,-74,40.6,-75.5,37.5,-76,35,-78,33.8,-81,31.5,-80,27,-80.5,25.2,-82,27,-83,29,-85,29.7,-89,30.3,-90,29.2,-94,29.6,-97.3,27.5,-97.7,22.5,-96,19,-94,18.2,-91,18.7,-90.5,21,-87,21.5,-88,16,-84,15.8,-83.5,11,-81,8.9,-79,9.5,-77.2,8.5,-75.5,10.7,-71.5,12.3,-68,11,-62,10.7,-60,8.3,-57,6,-52,5,-50,1,-48,-1,-44,-2.5,-40,-3,-37,-5,-35,-7,-37,-11,-39,-15,-39.5,-19,-41,-22,-44.5,-23,-48.5,-26,-48.7,-28.5,-52,-32.5,-54,-34.7,-58,-34.5,-57,-38,-62,-39,-65,-41,-65,-45,-67.5,-46,-66,-48,-69,-51,-68.5,-52.5,-65,-55,-70,-55,-74,-52,-75,-47,-73,-42,-73.5,-37,-71.5,-30,-70,-18.5,-76,-14,-81,-6,-80,-2,-79,1.5,-77.5,4,-77.5,7.5,-80,7.3,-83,8.2,-85.7,10,-87.5,13,-91,14,-94.5,16.2,-97,15.8,-101,17.3,-105.5,20,-105.5,22.5,-109,25.7,-112.5,29.5,-114.7,31.5,-112.5,27.5,-110,23,-112,25,-115,29,-117,32.5,-120.5,34.5,-122.5,37.5,-124,40.5,-124,46,-124.5,48.3,-123,49,-127,51,-130,54.5,-134,58,-139,60,-146,60.8,-151,60,-152,58.5,-157,57,-164,54.7,-158,58.5,-162,59.7,-165,61,-165,63,-161,64.5,-168,65.6,-163,67,-166,68.5,-162,70],
[-6,35.8,-9.5,31.5,-13,27.5,-17,21,-17,14.7,-13.5,9.5,-8,4.5,-4,5.2,2,6.3,5,5,8.5,4.5,9.5,1,9,-1,12,-5,13.5,-11,12,-17,14.5,-23,17,-29.5,18.5,-34.3,22,-34,27,-33.7,32.5,-28.5,35.5,-24,35,-20,40,-16,40.5,-11,39,-6.5,42,-1,47,4,51,10.5,51,12,45,10.5,43,12,39.5,15.5,37,21,35.5,24,33.5,28,32.5,30,32.5,31.2,29,31,25,32,20,31,20,32.7,15,32.3,10.5,34,11,37,9.5,37.3,3,37,-2,35],
[-75,78.5,-63,82.8,-43,83.6,-20.7,82.8,-12,81.5,-19,78.4,-21,76,-18,74.7,-24,72,-22,71.5,-26,71,-32,68,-38,66.7,-41,64,-43,62.7,-44.6,59.8,-48,61,-50,61,-52,64,-53,66.7,-51,69,-55,72.5,-58,75.5,-62,76.2,-68,76,-72.5,78.4],
[-65,62,-68,62.5,-72,64,-75,64.3,-78,65,-74,66,-73,68,-77,69.5,-80,70,-85,70,-89,71,-88,73.5,-85,73.7,-80,73.7,-76,72.7,-72,71,-67,69,-68,67.5,-62,66.5,-64,65,-66,63],
[-117,69,-110,68.6,-105,68.5,-101,70,-103,71.5,-105,73,-110,72.8,-117,73,-115,71],
[-125,72,-121,71.3,-118,71.5,-116,73,-117,74,-121,74.5,-124,74.5],
[-90,76.5,-85,76.3,-80,76.5,-76,78.5,-71,79.5,-64,82,-62,82.8,-75,83,-90,82,-87,80.5,-88,79],
[-92,74.7,-85,74.5,-80,74.7,-80,75.8,-86,75.5,-89,76.3,-92,76],
[-95,79,-87,78,-88,81,-92,81.3,-95,81],
[-117,75.2,-110,74.9,-106,75,-105.5,76,-110,76.6,-117,76.5],
[-96,72,-93,72.2,-90,72.5,-90.5,74,-95,74,-95.5,73],
[-102,72,-99,71.5,-97,72.5,-97,74,-100,73.8,-102,73],
[-104,75,-98,75,-97,76.5,-102,76.3],
[-96.5,75,-93.5,74.8,-93.5,75.8],
[-122,76,-117,75.8,-116,77.3,-120,77],
[-108,78,-103,78,-103,79,-106,79],
[-98,78,-93,78,-95,79],
[-99,69,-96,69,-96,68.5,-98,68.5],
[-83,62.5,-81,62.7,-82,63],
[-80,73,-76,72.7,-77,73.7],
[-64,49.4,-62,49.5,-64,49.8],
[-87,63.5,-81,63,-84,66,-87,65.5],
[-59,47.7,-53,46.7,-53,49,-56,51.5],
[-128,50.5,-123.5,48.4,-125,50],
[-133,54,-131.5,52,-132,53.5],
[-123,66,-119,67,-118,65.5,-122,65],
[-117,61.2,-110,62.8,-113,61],
[-111,59,-106,59.5,-108,58.8],
[-104,57,-102,55,-103,56.5],
[-99,53,-97,53.5,-96.5,50.5,-97.5,50.5],
[-92,46.7,-88,48.5,-85,47.8,-85,46.7,-88,46.7],
[-87.7,41.7,-87,45.7,-85,45.7,-86.3,42],
[-84.5,46,-80,45.5,-80,44.5,-82.5,43,-83.5,44],
[-83,41.7,-79,42.8,-79,43,-83,42.3],
[-79.7,43.3,-76.3,43.5,-76.3,44,-79,43.9],
[-85,22,-80,23,-75,20.2,-78,20],
[-74,19,-69,19,-71,18],
[-78.5,18.4,-76.3,18.2,-77,17.8],
[-67,18.4,-65.7,18.3,-66.5,18],
[-73.5,25,-72.5,21.5,-73.2,22.5],
[-160,22.2,-157.5,21.5,-155,19.8,-155.5,19.1,-156.5,20.8],
[-91.7,0.2,-91,-0.4,-91.5,-1],
[-172.8,-13.3,-171,-14,-171.8,-13.8],
[-151,-17,-149,-18,-149.5,-17.4],
[-177.5,-43.5,-175.5,-44,-176.5,-44.3],
[-61,-51.5,-58,-51.3,-59,-52.3],
[-38.5,-54,-35.8,-54.8,-37,-54.5],
[-46,-60.4,-44,-60.8,-45,-60.7],
[-175,52,-176.5,52.3,-177,51.7],
[-5.5,50,1,51.5,0,53.5,-2,56,-2,57.5,-5,58.5,-6,56,-3,54,-5,52],
[-10,52,-6,52,-6,55,-10,54],
[-24,65.5,-22,64,-18,63.5,-14,65,-16,66.5,-22,66],
[11,79,20,77,25,78,25,80.3,15,80],
[52,71,57,70.7,60,74,68,76.5,66,77,55,75],
[46,80.5,55,80.2,65,81,52,81],
[91,80.6,97,79,103,78.5,100,80],
[138,75,142,73.5,148,75,152,75.3,142,75.8],
[142,46,143,49,143.5,54,142,53,142,49],
[140,42,143,42,145,44,141.5,45.5],
[131,34,136,33.5,140,35,142,39.5,141,41,139.5,38,136,36.5],
[130,31,132,33.5,130,33.5],
[80,6,82,7.5,80,9.5],
[109,18.5,111,19.7,110,20],
[120,22.5,122,25,121,25],
[120.5,14,122,18,120.5,18.5,124,13],
[122,7,126,6.5,126,9.5,123,8.5],
[123,11,125.5,10,125,12.5],
[118,9,120,11,119,11.3],
[109,1,113,3,117,7,119,5,117.5,1,116,-4,111,-3],
[95.5,5.5,104,-2,106,-6,102,-4,98,1],
[105,-6.5,114.5,-7.5,114,-8.7,106,-7.5],
[119.5,-5,121,1,125,1.5,121,-1,123,-5],
[127.5,2,128.5,-0.5,127.8,0.5],
[131,-1,135,-3,141,-2.5,147,-6,150.5,-10.5,146,-8.5,143,-9,138,-8,133,-4],
[116,-8.5,124,-10,127,-8.5,120,-8.5],
[129,-3,130.5,-3.5,127,-3.3],
[150,-5.5,152,-4,148.5,-6],
[114,-22,113.5,-26,115,-34,118,-35,124,-33,131,-31.5,135,-35,138,-33,138,-35.5,141,-38,146,-39,150,-37.5,153,-31,153,-25,146,-19,145,-15,142.5,-11,141,-16,139,-17.5,136,-15,136.5,-12,131,-12,129,-15,125,-14,122,-18],
[145,-41,148,-41,147.5,-43.5,146,-43.5],
[173,-35,178.5,-38,175,-41.5,174,-39],
[172.5,-41,174,-42,171,-45.5,167,-46,168,-44],
[49.3,-12,50.5,-16,47,-25,44,-25,43.5,-21,44.5,-16],
[55.2,-20.8,55.7,-21.3,55.3,-21.4],
[57.3,-19.9,57.8,-20.4,57.3,-20.5],
[68.5,-49,70.5,-49.3,69.5,-50],
[53.5,12.7,54.5,12.4,53.7,12.3],
[159,-8,162,-10.5,160,-9.8],
[167,-14.5,168,-17,167.3,-16],
[164,-20,167,-22,165.5,-21.7],
[177.5,-17.5,179,-18,178,-18.2],
[172.5,52.8,173.8,52.8,173.2,52.4],
[-180,71,-177,71.5,-178,70.9],
[8.5,39,9.7,39.2,9.5,41,8.3,40.8],
[8.7,41.5,9.5,42,9.3,43,8.7,42.5],
[12.5,38,15.5,38.2,15,36.7],
[23.5,35.5,26.3,35.2,24.5,35.1],
[32.3,34.8,34.5,35.5,33.5,34.7],
[47,45,53,46.5,51,44,53.5,40,54,37,50,37.5,49,40.5,47,43],
[28,41.5,28,45,31,46.5,33,44.5,37,45,41,42,37,41,31,41.2],
[58.5,44,61,46.5,59.5,46.5],
[74,45.5,79,46.7,75,46.7],
[104,51.7,110,56,108.5,54,105,52.8],
[13.2,13,14.3,13.5,13.7,14],
[32,0,34,-0.5,33,-2.5,31.8,-2],
[29.5,-3.5,31,-8.5,30,-7],
[34.5,-10,34.5,-14,34,-13],
[-75,-69.5,-70,-69.5,-69,-72,-74,-72]
];

// ---------- rendering ----------
const NS = 'http://www.w3.org/2000/svg';
const svg = document.getElementById('figure');
const levelFill = {'-2':'#74abd7','-1':'#b3d3ec','0':'#ffffff','1':'#fcd8b0','2':'#f39d6a','3':'#ee7634','4':'#e75b12','5':'#ce4d12','6':'#ad4410','7':'#86390f','8':'#65350c','9':'#432a0c'};
const barLevels = [9,8,7,6,5,4,3,2,1,0,-1,-2];

function make(tag, attrs, parent){
  const el = document.createElementNS(NS, tag);
  for (const k in attrs) el.setAttribute(k, attrs[k]);
  parent.appendChild(el);
  return el;
}
function pathFrom(flat, xOf, yOf, close){
  let d = '';
  for (let i = 0; i < flat.length; i += 2){
    d += (i ? 'L' : 'M') + xOf(flat[i]).toFixed(1) + ' ' + yOf(flat[i+1]).toFixed(1);
  }
  return d + (close ? 'Z' : '');
}
function drawPanel(cfg){
  const xOf = lon => cfg.x0 + lon * cfg.kx;
  const yOf = lat => cfg.y0 - lat * cfg.ky;
  const left = xOf(-180), right = xOf(180), top = cfg.top, bottom = cfg.bottom;

  const plot = make('g', {'clip-path':'url(#' + cfg.clip + ')'}, svg);
  
  

  cfg.regions.forEach(function(r){
    const el = make('path', {d:pathFrom(r[1], xOf, yOf, true), fill:levelFill[r[0]]}, plot);
    
    
  });

  cfg.faint.forEach(function(lat){
    const el = make('line', {x1:left, x2:right, y1:yOf(lat), y2:yOf(lat), stroke:'#fbe3d2', 'stroke-width':2, opacity:0.55}, plot);
    
    
  });
  cfg.strong.forEach(function(lat){
    const el = make('line', {x1:left, x2:right, y1:yOf(lat), y2:yOf(lat), stroke:'#f8c9ac', 'stroke-width':3, opacity:0.75}, plot);
    
    
  });

  gridLats.forEach(function(lat){
    const el = make('line', {x1:left, x2:right, y1:yOf(lat), y2:yOf(lat), stroke:'#555', 'stroke-width':3, 'stroke-dasharray':'8 37', 'stroke-dashoffset':-40}, plot);
    
    
  });
  gridLons.forEach(function(lon){
    const el = make('line', {x1:xOf(lon), x2:xOf(lon), y1:top, y2:bottom, stroke:'#555', 'stroke-width':3, 'stroke-dasharray':'9 35', 'stroke-dashoffset':-30}, plot);
    
    
  });

  coastRings.forEach(function(flat){
    const el = make('path', {d:pathFrom(flat, xOf, yOf, true), fill:'none', stroke:'#000', 'stroke-width':9, 'stroke-linejoin':'miter', 'stroke-miterlimit':6}, plot);
    
    
  });
  coastLines.forEach(function(flat){
    const el = make('path', {d:pathFrom(flat, xOf, yOf, false), fill:'none', stroke:'#000', 'stroke-width':9, 'stroke-linejoin':'miter', 'stroke-miterlimit':6}, plot);
    
    
  });

  const frame = make('rect', {x:left, y:top, width:right-left, height:bottom-top, fill:'none', stroke:'#000', 'stroke-width':12}, svg);
  
  

  lonTicks.forEach(function(lon, i){
    const tick = make('line', {x1:xOf(lon), x2:xOf(lon), y1:bottom, y2:bottom+14, stroke:'#000', 'stroke-width':6}, svg);
    
    
    const w = lonLabelWidths[i];
    const t = make('text', {class:'tick', x:xOf(lon)-w/2+(i===0?3:(i===6?8:2)), y:bottom+61, textLength:w, lengthAdjust:'spacingAndGlyphs'}, svg);
    t.textContent = lonLabels[i];
    
    
  });
  latTicks.forEach(function(lat, i){
    const tick = make('line', {x1:left-14, x2:left, y1:yOf(lat), y2:yOf(lat), stroke:'#000', 'stroke-width':6}, svg);
    
    
    const w = latLabelWidths[i];
    const t = make('text', {class:'tick', x:left-27-w, y:yOf(lat)+18, textLength:w, lengthAdjust:'spacingAndGlyphs'}, svg);
    t.textContent = latLabels[i];
    
    
  });
}
function drawBar(cfg){
  const group = make('g', {}, svg);
  
  
  const mid = (cfg.top + cfg.bottom) / 2;
  const xEdge = i => cfg.start + i * cfg.step;
  const n = cfg.labels.length;
  const lt = make('path', {d:'M' + xEdge(0) + ' ' + cfg.top + 'L' + cfg.tipL + ' ' + (mid-7) + 'L' + cfg.tipL + ' ' + (mid+7) + 'L' + xEdge(0) + ' ' + cfg.bottom + 'Z', fill:levelFill[barLevels[0]], stroke:'#000', 'stroke-width':cfg.line, 'stroke-linejoin':'bevel'}, group);
  
  
  const rt = make('path', {d:'M' + xEdge(n-1) + ' ' + cfg.top + 'L' + cfg.tipR + ' ' + (mid-7) + 'L' + cfg.tipR + ' ' + (mid+7) + 'L' + xEdge(n-1) + ' ' + cfg.bottom + 'Z', fill:levelFill[barLevels[n]], stroke:'#000', 'stroke-width':cfg.line, 'stroke-linejoin':'bevel'}, group);
  
  
  for (let i = 0; i < n-1; i++){
    const box = make('rect', {x:xEdge(i), y:cfg.top, width:cfg.step, height:cfg.bottom-cfg.top, fill:levelFill[barLevels[i+1]], stroke:'#000', 'stroke-width':cfg.line}, group);
    
    
  }
  cfg.labels.forEach(function(label, i){
    const w = cbLabelWidths[i];
    const t = make('text', {class:'cb', x:xEdge(i)+cfg.shift-w/2, y:cfg.base, textLength:w, lengthAdjust:'spacingAndGlyphs', style:'stroke-width:' + cfg.weight + 'px'}, group);
    t.textContent = label;
    
    
  });
}
drawPanel({id:'a', clip:'clip-a', x0:1857, kx:8.383, y0:1030, ky:10.05, top:154, bottom:1906, regions:regionsA.slice(0,67).concat(regionsCommon, regionsA.slice(67)), faint:faintLatsA, strong:strongLatsA});
drawPanel({id:'b', clip:'clip-b', x0:1876, kx:8.38, y0:3349, ky:10.03, top:2474, bottom:4223, regions:regionsB.slice(0,-6).concat(regionsCommon, regionsB.slice(-6)), faint:faintLatsB, strong:strongLatsB});
drawBar({id:'a', start:743, step:221.5, top:2105, bottom:2176, tipL:526, tipR:3188, line:7, base:2222, shift:8, weight:3, labels:cbLabelsA});
drawBar({id:'b', start:761, step:221.5, top:4422, bottom:4492, tipL:547, tipR:3205, line:6, base:4540, shift:9, weight:1.5, labels:cbLabelsB});
</script>
</body>
</html>
